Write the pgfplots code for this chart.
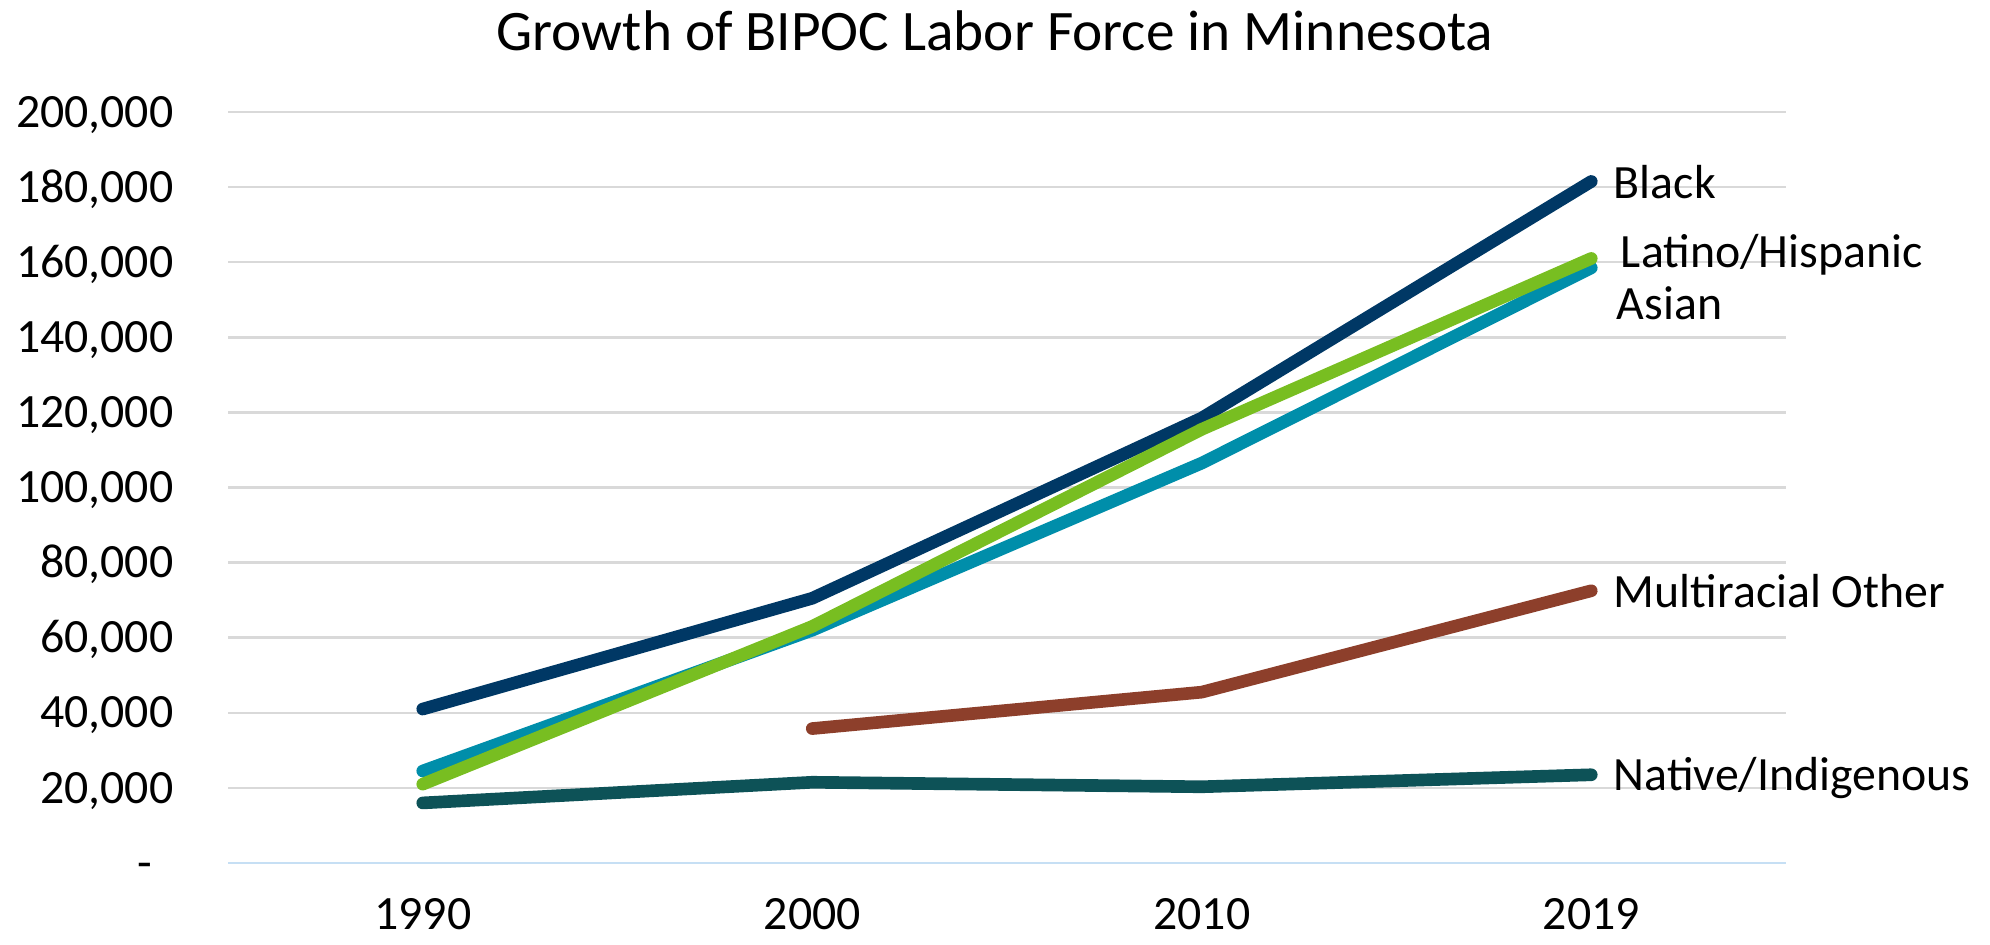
\documentclass[border=0pt]{standalone}
\usepackage{pgfplots}
\pgfplotsset{compat=1.18}
\usepackage{fontspec}
\setmainfont{Carlito}
\definecolor{cBlack}{HTML}{003865}
\definecolor{cLatino}{HTML}{78BE21}
\definecolor{cAsian}{HTML}{008EAA}
\definecolor{cMulti}{HTML}{8D3F2B}
\definecolor{cNative}{HTML}{0D5257}
\definecolor{gridgray}{HTML}{D9D9D9}
\definecolor{axisblue}{HTML}{C6DFF4}
\begin{document}
\begin{tikzpicture}
\path[use as bounding box] (0,0) rectangle (199mm,94.4mm);
\node[font=\fontsize{16.3}{19}\selectfont, anchor=base, inner sep=0pt] at (99.5mm,89.3mm) {Growth of BIPOC Labor Force in Minnesota};
\begin{axis}[
  at={(22.8mm,8.1mm)}, anchor=south west,
  scale only axis, width=155.8mm, height=75.1mm,
  xmin=-0.5, xmax=3.5, ymin=0, ymax=200000,
  xtick={0,1,2,3}, xticklabels={1990,2000,2010,2019},
  ytick={0,20000,40000,60000,80000,100000,120000,140000,160000,180000,200000},
  yticklabels={{-\kern0.44em},{20,000},{40,000},{60,000},{80,000},{100,000},{120,000},{140,000},{160,000},{180,000},{200,000}},
  scaled y ticks=false,
  major tick length=0pt,
  separate axis lines,
  axis x line*=bottom, axis y line*=left,
  y axis line style={draw=none},
  x axis line style={draw=axisblue, line width=0.25mm, -},
  ymajorgrids, grid style={draw=gridgray, line width=0.25mm},
  tick label style={font=\fontsize{13.6}{16}\selectfont, inner sep=0pt},
  yticklabel style={anchor=base east, xshift=-5.4mm, yshift=-4.3pt},
  xticklabel style={anchor=base, yshift=-6.6mm},
  clip=false,
  every axis plot/.append style={line width=3.6pt, line cap=round, line join=round, no markers},
]
\addplot[cNative] coordinates {(0,16000) (1,21500) (2,20300) (3,23500)};
\addplot[cMulti] coordinates {(1,35800) (2,45500) (3,72500)};
\addplot[cBlack] coordinates {(0,41000) (1,70500) (2,118500) (3,181500)};
\addplot[cAsian] coordinates {(0,24500) (1,62000) (2,106500) (3,158500)};
\addplot[cLatino] coordinates {(0,21000) (1,63000) (2,115500) (3,161000)};
\begin{scope}[every node/.style={font=\fontsize{13.6}{16}\selectfont, anchor=base west, inner sep=0pt, yshift=-4.3pt}]
\node[xshift=2.2mm] at (axis cs:3,181000) {Black};
\node[xshift=2.9mm] at (axis cs:3,162500) {Latino/Hispanic};
\node[xshift=2.5mm] at (axis cs:3,148800) {Asian};
\node[xshift=2.2mm] at (axis cs:3,72000) {Multiracial Other};
\node[xshift=2.2mm] at (axis cs:3,23300) {Native/Indigenous};
\end{scope}
\end{axis}
\end{tikzpicture}
\end{document}
